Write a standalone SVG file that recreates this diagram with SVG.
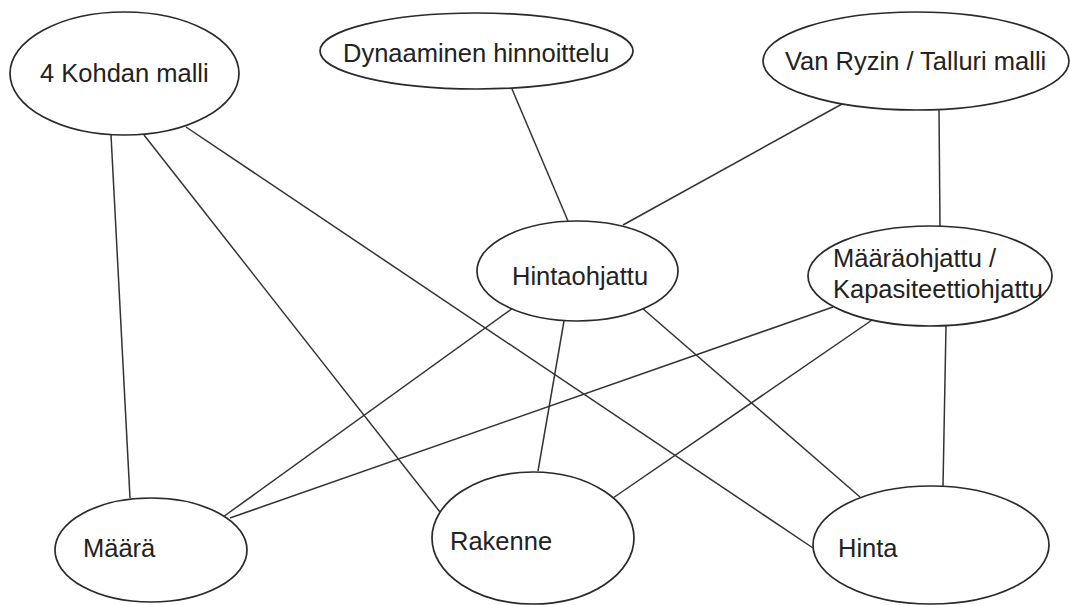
<svg xmlns="http://www.w3.org/2000/svg" width="1070" height="605" viewBox="0 0 1070 605">
<style>
.n{fill:#fff;stroke:#2a2a2a;stroke-width:1.7}
.c line{stroke:#333;stroke-width:1.5}
text{font-family:"Liberation Sans",Arial,sans-serif;font-size:25.5px;fill:#222}
</style>
<rect width="1070" height="605" fill="#fff"/>
<g id="connectors" class="c">
<line x1="111" y1="135" x2="130" y2="498"/>
<line x1="144" y1="135" x2="440" y2="512"/>
<line x1="186" y1="127" x2="813" y2="548"/>
<line x1="512" y1="89" x2="568" y2="221"/>
<line x1="842" y1="104" x2="623" y2="225"/>
<line x1="939" y1="110" x2="940" y2="228"/>
<line x1="513" y1="308" x2="223" y2="517"/>
<line x1="564" y1="321" x2="538" y2="471"/>
<line x1="642" y1="308" x2="860" y2="497"/>
<line x1="833" y1="307" x2="230" y2="518"/>
<line x1="875" y1="318" x2="613" y2="498"/>
<line x1="946" y1="326" x2="943" y2="486"/>
</g>
<g id="n1"><ellipse class="n" cx="124.5" cy="73.5" rx="114.5" ry="61.5"/><text x="40" y="82">4 Kohdan malli</text></g>
<g id="n2"><ellipse class="n" cx="476.5" cy="51" rx="156.5" ry="38"/><text x="343" y="62">Dynaaminen hinnoittelu</text></g>
<g id="n3"><ellipse class="n" cx="916" cy="61" rx="153" ry="49"/><text x="785" y="70">Van Ryzin / Talluri malli</text></g>
<g id="n4"><ellipse class="n" cx="577.5" cy="271" rx="100.5" ry="50"/><text x="512" y="285">Hintaohjattu</text></g>
<g id="n5"><ellipse class="n" cx="930" cy="276" rx="122" ry="50"/><text x="833" y="267">Määräohjattu /</text><text x="833" y="298">Kapasiteettiohjattu</text></g>
<g id="n6"><ellipse class="n" cx="151" cy="550" rx="96" ry="52"/><text x="83" y="557">Määrä</text></g>
<g id="n7"><ellipse class="n" cx="533" cy="538" rx="101" ry="66"/><text x="450" y="550">Rakenne</text></g>
<g id="n8"><ellipse class="n" cx="931" cy="545" rx="118" ry="59"/><text x="838" y="557">Hinta</text></g>
</svg>
